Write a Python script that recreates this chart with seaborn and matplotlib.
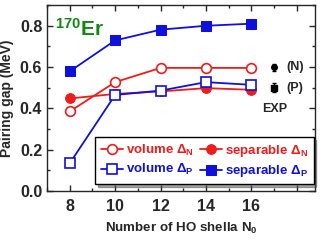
import numpy as np
import pandas as pd
import matplotlib
matplotlib.use("Agg")
import matplotlib.pyplot as plt
import seaborn as sns
from matplotlib.ticker import MultipleLocator

shells = [8, 10, 12, 14, 16]
volume_N = [0.385, 0.527, 0.596, 0.596, 0.596]
separable_N = [0.448, 0.470, 0.482, 0.498, 0.490]
volume_P = [0.134, 0.465, 0.486, 0.527, 0.514]
separable_P = [0.579, 0.729, 0.781, 0.800, 0.810]
exp_x = [17, 17]
exp_y = [0.598, 0.500]
exp_err = [0.015, 0.022]
exp_labels = ["(N)", "(P)"]

sns.set_style("ticks")
plt.rcParams['font.family'] = ['Liberation Sans', 'DejaVu Sans']
plt.rcParams['font.weight'] = 'bold'
plt.rcParams['mathtext.fontset'] = 'custom'
plt.rcParams['mathtext.rm'] = 'Liberation Sans:bold'
plt.rcParams['mathtext.bf'] = 'Liberation Sans:bold'
plt.rcParams['mathtext.it'] = 'Liberation Sans:bold'
plt.rcParams['mathtext.default'] = 'bf'

fig = plt.figure(figsize=(3.22, 2.43), dpi=100)
ax = fig.add_axes([0.146, 0.214, 0.832, 0.765])

red = '#ee1c1c'
blue = '#1010dd'
df = pd.DataFrame({'N0': shells, 'vN': volume_N, 'sN': separable_N,
                   'vP': volume_P, 'sP': separable_P})

sns.lineplot(data=df, x='N0', y='vN', ax=ax, color=red, marker='o', ms=7,
             mfc='white', mec=red, mew=1.2, lw=1.3, label=r'volume $\Delta_N$')
sns.lineplot(data=df, x='N0', y='sN', ax=ax, color=red, marker='o', ms=7,
             mfc=red, mec=red, lw=1.3, label=r'separable $\Delta_N$')
sns.lineplot(data=df, x='N0', y='vP', ax=ax, color=blue, marker='s', ms=6.5,
             mfc='white', mec=blue, mew=1.2, lw=1.3, label=r'volume $\Delta_P$')
sns.lineplot(data=df, x='N0', y='sP', ax=ax, color=blue, marker='s', ms=6.5,
             mfc=blue, mec=blue, lw=1.3, label=r'separable $\Delta_P$')

ax.errorbar(exp_x[0], exp_y[0], yerr=exp_err[0], fmt='o', color='black', ms=4, capsize=1.5, elinewidth=1)
ax.errorbar(exp_x[1], exp_y[1], yerr=exp_err[1], fmt='s', color='black', ms=4, capsize=1.5, elinewidth=1)
for lab, yv in zip(exp_labels, exp_y):
    ax.text(17.55, yv, lab, fontsize=9, fontweight='bold', va='center', ha='left')
ax.text(17.05, 0.395, 'EXP', fontsize=9, fontweight='bold', va='center', ha='center')
ax.text(7.35, 0.752, r'$^{170}$Er', fontsize=15, fontweight='bold', color='#118811', va='baseline')

ax.set_xlim(7, 18.8)
ax.set_ylim(0, 0.9)
ax.set_xticks([8, 10, 12, 14, 16, 18])
ax.set_xticklabels(['8', '10', '12', '14', '16', ''])
ax.xaxis.set_minor_locator(MultipleLocator(1))
ax.yaxis.set_major_locator(MultipleLocator(0.2))
ax.yaxis.set_minor_locator(MultipleLocator(0.1))
ax.tick_params(which='both', direction='in', top=True, right=True, width=1)
ax.tick_params(which='major', length=4, labelsize=11.5)
ax.tick_params(which='minor', length=2)
ax.tick_params(axis='x', which='major', pad=6)
for lab in ax.get_xticklabels() + ax.get_yticklabels():
    lab.set_fontweight('bold')
ax.yaxis.set_major_formatter(matplotlib.ticker.FormatStrFormatter('%.1f'))
for s in ax.spines.values():
    s.set_linewidth(1)
ax.set_xlabel(r'Number of HO shella N$_0$', fontsize=9.6, fontweight='bold', labelpad=5)
ax.set_ylabel('Pairing gap (MeV)', fontsize=10, fontweight='bold')

handles, labels = ax.get_legend_handles_labels()
order = [0, 2, 1, 3]
leg = ax.legend([handles[i] for i in order], [labels[i] for i in order],
                ncol=2, loc='lower right', bbox_to_anchor=(0.995, 0.035), borderaxespad=0,
                fontsize=9.5, frameon=True, fancybox=False, shadow=True, edgecolor='black',
                handlelength=1.7, handletextpad=0.2, columnspacing=0.5,
                borderpad=0.4, labelspacing=0.35, labelcolor='linecolor')
leg.get_frame().set_linewidth(1)
for t in leg.get_texts():
    t.set_fontweight('bold')

fig.savefig('out.png', dpi=100)
